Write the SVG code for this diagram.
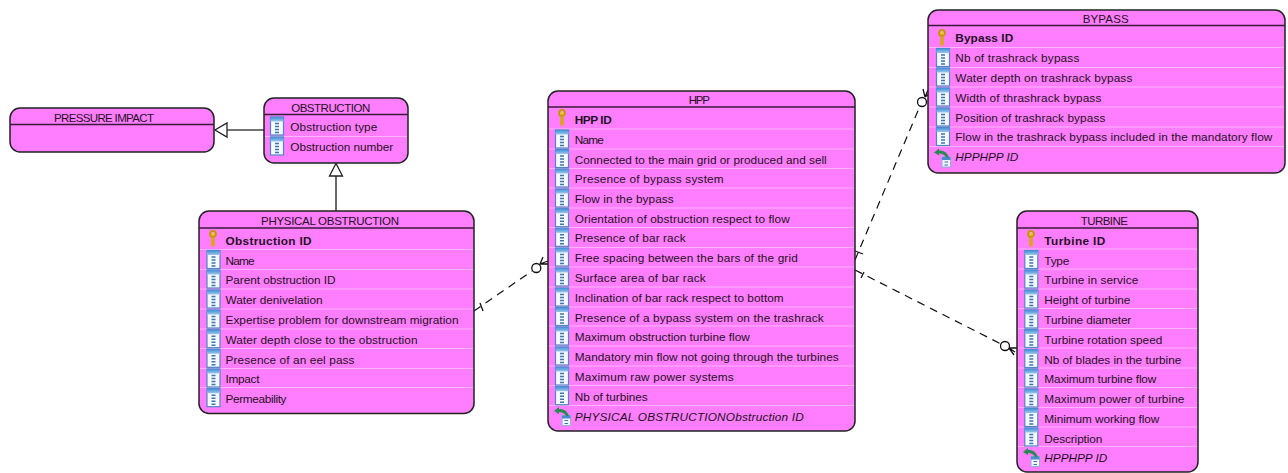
<svg xmlns="http://www.w3.org/2000/svg" width="1288" height="473" viewBox="0 0 1288 473">
<style>
text{font-family:"Liberation Sans",Arial,sans-serif;font-size:11.8px;fill:#1f1024}
.t{font-size:11.5px;text-anchor:middle}
.b{font-weight:bold}
.i{font-style:italic}
.box{fill:#ff7dff;stroke:#222;stroke-width:1.5}
.h{stroke:#3a1a3a;stroke-width:1.5}
.s{stroke:#ffb4ff;stroke-width:1.2}
.c{fill:none;stroke:#111;stroke-width:1.2;stroke-dasharray:8 6}
.g{fill:none;stroke:#444;stroke-width:1.6}
.m{fill:none;stroke:#111;stroke-width:1.3}
.e{fill:#fff;stroke:#222;stroke-width:1.3}
</style>
<defs>
<linearGradient id="bl" x1="0" y1="0" x2="0" y2="1"><stop offset="0" stop-color="#3f8fd8"/><stop offset="1" stop-color="#9cc6ea"/></linearGradient>
<g id="col">
<rect x="-6.500" y="-10" width="13" height="18" fill="#f6f9fc" stroke="#4f86c4" stroke-width="1.200"/>
<rect x="-6.500" y="-10" width="13" height="4.500" fill="url(#bl)"/>
<path d="M-2-3.500h4M-2-.5h4M-2 2.500h4M-2 5.500h4" stroke="#3d76b0" stroke-width="1.500"/>
</g>
<g id="key">
<circle cx="0" cy="-5" r="3" fill="#f0c020" stroke="#c09810" stroke-width="1.800"/>
<path d="M0-1.500V7.500" stroke="#d8a810" stroke-width="3.500"/>
<circle cx="0" cy="-6" r="1" fill="#ff9dff"/>
</g>
<g id="fk">
<rect x="0" y="1.500" width="8.500" height="10" fill="#eef4fa" stroke="#8fb4d8" stroke-width="1"/>
<rect x="0" y="1.500" width="8.500" height="3" fill="#4a8ad0"/>
<path d="M2.500 6.500h3.500M2.500 9.500h3.500" stroke="#3d76b0" stroke-width="1.200"/>
<path d="M-8-3L-3-7V-5Q4-6 7 2H4Q2-2-3-2V0Z" fill="#2a8a50"/>
</g>
</defs>
<g id="connectors">
<path class="g" d="M264 130H227"/><path class="e" d="M227 123V137L215 130Z"/>
<path class="g" d="M336 211V176"/><path class="e" d="M329.500 176H342.500L336 163.500Z"/>
<path class="c" d="M474 311L532 271"/>
<path class="m" d="M480 303L483 311"/>
<circle class="m" cx="536.300" cy="268" r="4.500"/>
<path class="m" d="M540 264L543 257M540 264L549 264M540 264L548 261"/>
<path class="c" d="M855 260L920 106"/>
<path class="m" d="M855 251L863 254"/>
<circle class="m" cx="922" cy="102" r="4.500"/>
<path class="m" d="M925 97L923 89M925 97L932 92M925 97L928 90"/>
<path class="c" d="M855 270L1001 344"/>
<path class="m" d="M864 272L861 278"/>
<circle class="m" cx="1005" cy="346" r="4.500"/>
<path class="m" d="M1009 348L1017 348M1009 348L1014 355M1009 348L1015 352"/>
</g>
<g id="pressure-impact">
<rect class="box" x="10" y="108" width="204" height="44" rx="10"/>
<path class="h" d="M10 124.500H214"/>
<text class="t" x="104" y="122" textLength="100">PRESSURE IMPACT</text>
</g>
<g id="obstruction">
<rect class="box" x="264" y="98" width="144" height="65" rx="10"/>
<path class="h" d="M264 114.500H408"/>
<path class="s" d="M265 136.500H407"/>
<text class="t" x="330.700" y="112" textLength="79">OBSTRUCTION</text>
<use href="#col" x="277" y="127"/><text x="290.300" y="131" textLength="87">Obstruction type</text>
<use href="#col" x="277" y="147"/><text x="290.300" y="151" textLength="103">Obstruction number</text>
</g>
<g id="physical-obstruction">
<rect class="box" x="199" y="211" width="275" height="202.500" rx="10"/>
<path class="h" d="M199 228H474"/>
<path class="s" d="M200 249.500H473M200 269.500H473M200 289H473M200 309H473M200 329H473M200 348.500H473M200 368.500H473M200 387.500H473"/>
<text class="t" x="330" y="225" textLength="138">PHYSICAL OBSTRUCTION</text>
<use href="#key" x="213" y="239"/><text class="b" x="225.500" y="245" textLength="86">Obstruction ID</text>
<use href="#col" x="213.500" y="260.500"/><text x="225.500" y="265" textLength="29">Name</text>
<use href="#col" x="213.500" y="280"/><text x="225.500" y="284" textLength="110">Parent obstruction ID</text>
<use href="#col" x="213.500" y="300"/><text x="225.500" y="304" textLength="97">Water denivelation</text>
<use href="#col" x="213.500" y="320"/><text x="225.500" y="324" textLength="233">Expertise problem for downstream migration</text>
<use href="#col" x="213.500" y="339.700"/><text x="225.500" y="344" textLength="192">Water depth close to the obstruction</text>
<use href="#col" x="213.500" y="359.300"/><text x="225.500" y="363.500" textLength="129">Presence of an eel pass</text>
<use href="#col" x="213.500" y="379"/><text x="225.500" y="383" textLength="34">Impact</text>
<use href="#col" x="213.500" y="398.700"/><text x="225.500" y="403" textLength="61">Permeability</text>
</g>
<g id="hpp">
<rect class="box" x="548" y="91" width="307" height="340" rx="10"/>
<path class="h" d="M548 107H855"/>
<path class="s" d="M549 129H854M549 149H854M549 168.500H854M549 188H854M549 208H854M549 227.500H854M549 247.500H854M549 267H854M549 287H854M549 307H854M549 326H854M549 346H854M549 366H854M549 385.500H854M549 405.500H854"/>
<text class="t" x="699.300" y="104" textLength="21">HPP</text>
<use href="#key" x="562" y="118"/><text class="b" x="574.700" y="124" textLength="37">HPP ID</text>
<use href="#col" x="562" y="140"/><text x="574.700" y="144" textLength="29">Name</text>
<use href="#col" x="562" y="159.500"/><text x="574.700" y="163.500" textLength="252">Connected to the main grid or produced and sell</text>
<use href="#col" x="562" y="179"/><text x="574.700" y="183" textLength="149">Presence of bypass system</text>
<use href="#col" x="562" y="199"/><text x="574.700" y="203" textLength="99">Flow in the bypass</text>
<use href="#col" x="562" y="218.700"/><text x="574.700" y="222.700" textLength="215">Orientation of obstruction respect to flow</text>
<use href="#col" x="562" y="238.300"/><text x="574.700" y="242" textLength="111">Presence of bar rack</text>
<use href="#col" x="562" y="258"/><text x="574.700" y="262" textLength="223">Free spacing between the bars of the grid</text>
<use href="#col" x="562" y="278"/><text x="574.700" y="282" textLength="131">Surface area of bar rack</text>
<use href="#col" x="562" y="298"/><text x="574.700" y="302" textLength="209">Inclination of bar rack respect to bottom</text>
<use href="#col" x="562" y="317.500"/><text x="574.700" y="322" textLength="249">Presence of a bypass system on the trashrack</text>
<use href="#col" x="562" y="337"/><text x="574.700" y="341" textLength="175">Maximum obstruction turbine flow</text>
<use href="#col" x="562" y="357"/><text x="574.700" y="361" textLength="264">Mandatory min flow not going through the turbines</text>
<use href="#col" x="562" y="377"/><text x="574.700" y="381" textLength="159">Maximum raw power systems</text>
<use href="#col" x="562" y="396.700"/><text x="574.700" y="401" textLength="73">Nb of turbines</text>
<use href="#fk" x="562" y="414"/><text class="i" x="574.700" y="421" textLength="229">PHYSICAL OBSTRUCTIONObstruction ID</text>
</g>
<g id="bypass">
<rect class="box" x="928" y="10" width="357" height="163" rx="10"/>
<path class="h" d="M928 25.500H1285"/>
<path class="s" d="M929 47.500H1284M929 67.500H1284M929 87H1284M929 107H1284M929 127H1284M929 146.500H1284"/>
<text class="t" x="1105.700" y="23" textLength="46">BYPASS</text>
<use href="#key" x="942" y="38"/><text class="b" x="955.300" y="42" textLength="58">Bypass ID</text>
<use href="#col" x="943" y="58.500"/><text x="955.300" y="62" textLength="124">Nb of trashrack bypass</text>
<use href="#col" x="943" y="78"/><text x="955.300" y="82" textLength="177">Water depth on trashrack bypass</text>
<use href="#col" x="943" y="98"/><text x="955.300" y="102" textLength="146">Width of thrashrack bypass</text>
<use href="#col" x="943" y="118"/><text x="955.300" y="122" textLength="150">Position of trashrack bypass</text>
<use href="#col" x="943" y="137.500"/><text x="955.300" y="141" textLength="317">Flow in the trashrack bypass included in the mandatory flow</text>
<use href="#fk" x="942" y="155.500"/><text class="i" x="955.300" y="161" textLength="63">HPPHPP ID</text>
</g>
<g id="turbine">
<rect class="box" x="1017" y="211" width="181" height="261" rx="10"/>
<path class="h" d="M1017 228H1198"/>
<path class="s" d="M1018 249H1197M1018 269H1197M1018 289H1197M1018 308.500H1197M1018 328.500H1197M1018 348H1197M1018 368H1197M1018 387.500H1197M1018 407.500H1197M1018 427H1197M1018 446.500H1197"/>
<text class="t" x="1104.300" y="225" textLength="47">TURBINE</text>
<use href="#key" x="1031" y="239"/><text class="b" x="1044.300" y="245" textLength="61">Turbine ID</text>
<use href="#col" x="1031.300" y="260.500"/><text x="1044.300" y="265" textLength="25">Type</text>
<use href="#col" x="1031.300" y="280"/><text x="1044.300" y="284" textLength="94">Turbine in service</text>
<use href="#col" x="1031.300" y="300"/><text x="1044.300" y="304" textLength="86">Height of turbine</text>
<use href="#col" x="1031.300" y="320"/><text x="1044.300" y="324" textLength="87">Turbine diameter</text>
<use href="#col" x="1031.300" y="339.500"/><text x="1044.300" y="343.500" textLength="118">Turbine rotation speed</text>
<use href="#col" x="1031.300" y="359.500"/><text x="1044.300" y="364" textLength="137">Nb of blades in the turbine</text>
<use href="#col" x="1031.300" y="379"/><text x="1044.300" y="383" textLength="112">Maximum turbine flow</text>
<use href="#col" x="1031.300" y="399"/><text x="1044.300" y="403" textLength="140">Maximum power of turbine</text>
<use href="#col" x="1031.300" y="418.500"/><text x="1044.300" y="423" textLength="115">Minimum working flow</text>
<use href="#col" x="1031.300" y="438"/><text x="1044.300" y="442.700" textLength="58">Description</text>
<use href="#fk" x="1031" y="455"/><text class="i" x="1044.300" y="462" textLength="63">HPPHPP ID</text>
</g>
</svg>
